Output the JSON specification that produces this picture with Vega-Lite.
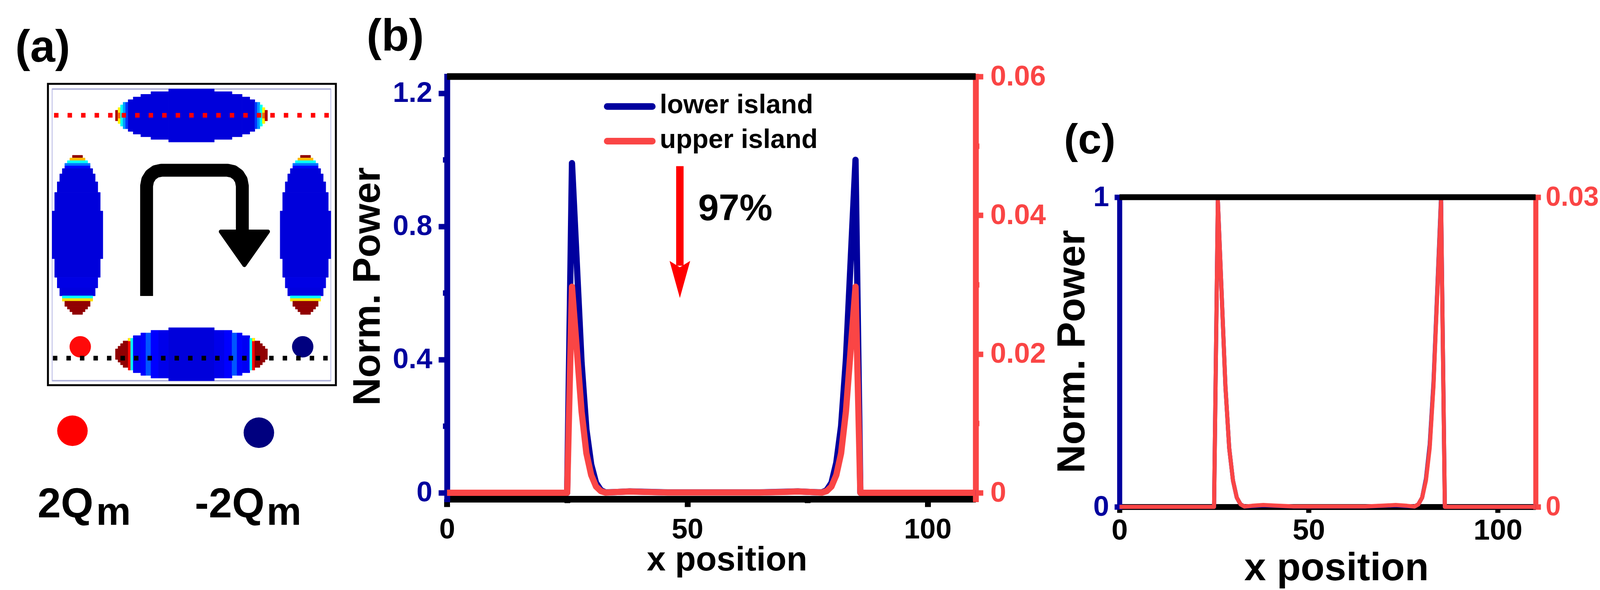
{
  "$schema": "https://vega.github.io/schema/vega-lite/v6.json",
  "width": 4295,
  "height": 1511,
  "padding": 0,
  "autosize": {"type": "fit", "contains": "padding"},
  "background": "white",
  "config": {
    "view": {"stroke": null},
    "font": "Liberation Sans",
    "axis": {"grid": false, "labelFont": "Liberation Sans", "titleFont": "Liberation Sans", "labelFontWeight": "bold", "titleFontWeight": "bold", "labelFlush": false, "labelOverlap": false, "domainCap": "square", "zindex": 1, "labelBound": false},
    "text": {"fontWeight": "bold", "font": "Liberation Sans", "baseline": "alphabetic", "align": "left", "color": "black"}
  },
  "datasets": {
    "profile": [
      {"x": 0, "lower": 0, "upper": 0},
      {"x": 25, "lower": 0, "upper": 0},
      {"x": 26, "lower": 0.99, "upper": 0.0297},
      {"x": 27, "lower": 0.69, "upper": 0.0207},
      {"x": 28, "lower": 0.39, "upper": 0.0117},
      {"x": 29, "lower": 0.19, "upper": 0.0057},
      {"x": 30, "lower": 0.085, "upper": 0.00255},
      {"x": 31, "lower": 0.03, "upper": 0.0009},
      {"x": 32, "lower": 0.008, "upper": 0.00024},
      {"x": 33, "lower": 0.001, "upper": 0.00003},
      {"x": 35, "lower": 0.002, "upper": 0.0001},
      {"x": 38, "lower": 0.004, "upper": 0.00018},
      {"x": 41, "lower": 0.003, "upper": 0.00012},
      {"x": 46, "lower": 0.001, "upper": 0.00004},
      {"x": 65, "lower": 0.001, "upper": 0.00004},
      {"x": 70, "lower": 0.003, "upper": 0.00012},
      {"x": 73, "lower": 0.004, "upper": 0.00018},
      {"x": 76, "lower": 0.002, "upper": 0.0001},
      {"x": 78, "lower": 0.001, "upper": 0.00003},
      {"x": 79, "lower": 0.008, "upper": 0.00024},
      {"x": 80, "lower": 0.03, "upper": 0.0009},
      {"x": 81, "lower": 0.09, "upper": 0.00255},
      {"x": 82, "lower": 0.2, "upper": 0.0057},
      {"x": 83, "lower": 0.4, "upper": 0.0117},
      {"x": 84, "lower": 0.7, "upper": 0.0207},
      {"x": 85, "lower": 1, "upper": 0.0297},
      {"x": 86, "lower": 0, "upper": 0},
      {"x": 110, "lower": 0, "upper": 0}
    ],
    "cells": [
      {"x": 25, "x2": 26, "y": 8, "y2": 12, "power": 0.95},
      {"x": 26, "x2": 27, "y": 7, "y2": 13, "power": 0.62},
      {"x": 26, "x2": 27, "y": 9, "y2": 11, "power": 0.8},
      {"x": 27, "x2": 28, "y": 6, "y2": 14, "power": 0.38},
      {"x": 28, "x2": 29, "y": 5, "y2": 15, "power": 0.22},
      {"x": 29, "x2": 30, "y": 5, "y2": 15, "power": 0.13},
      {"x": 30, "x2": 32, "y": 4, "y2": 16, "power": 0.076},
      {"x": 32, "x2": 35, "y": 3, "y2": 17, "power": 0.076},
      {"x": 35, "x2": 39, "y": 2, "y2": 18, "power": 0.076},
      {"x": 39, "x2": 46, "y": 1, "y2": 19, "power": 0.076},
      {"x": 46, "x2": 64, "y": 0, "y2": 20, "power": 0.076},
      {"x": 64, "x2": 71, "y": 1, "y2": 19, "power": 0.076},
      {"x": 71, "x2": 75, "y": 2, "y2": 18, "power": 0.076},
      {"x": 75, "x2": 78, "y": 3, "y2": 17, "power": 0.076},
      {"x": 78, "x2": 80, "y": 4, "y2": 16, "power": 0.076},
      {"x": 80, "x2": 81, "y": 5, "y2": 15, "power": 0.13},
      {"x": 81, "x2": 82, "y": 5, "y2": 15, "power": 0.22},
      {"x": 82, "x2": 83, "y": 6, "y2": 14, "power": 0.38},
      {"x": 83, "x2": 84, "y": 7, "y2": 13, "power": 0.62},
      {"x": 83, "x2": 84, "y": 9, "y2": 11, "power": 0.8},
      {"x": 84, "x2": 85, "y": 8, "y2": 12, "power": 0.95},

      {"x": 25, "x2": 26, "y": 98, "y2": 102, "power": 0.98},
      {"x": 26, "x2": 27, "y": 97, "y2": 103, "power": 0.98},
      {"x": 27, "x2": 28, "y": 96, "y2": 104, "power": 0.98},
      {"x": 28, "x2": 30, "y": 95, "y2": 105, "power": 0.98},
      {"x": 30, "x2": 31, "y": 94, "y2": 106, "power": 0.86},
      {"x": 30, "x2": 31, "y": 94, "y2": 95, "power": 0.62},
      {"x": 31, "x2": 32, "y": 94, "y2": 106, "power": 0.36},
      {"x": 32, "x2": 35, "y": 93, "y2": 107, "power": 0.1},
      {"x": 35, "x2": 37, "y": 92, "y2": 108, "power": 0.11},
      {"x": 37, "x2": 39, "y": 92, "y2": 108, "power": 0.15},
      {"x": 39, "x2": 42, "y": 91, "y2": 109, "power": 0.11},
      {"x": 42, "x2": 46, "y": 91, "y2": 109, "power": 0.09},
      {"x": 46, "x2": 64, "y": 90, "y2": 110, "power": 0.076},
      {"x": 64, "x2": 68, "y": 91, "y2": 109, "power": 0.09},
      {"x": 68, "x2": 71, "y": 91, "y2": 109, "power": 0.11},
      {"x": 71, "x2": 73, "y": 92, "y2": 108, "power": 0.15},
      {"x": 73, "x2": 75, "y": 92, "y2": 108, "power": 0.11},
      {"x": 75, "x2": 78, "y": 93, "y2": 107, "power": 0.1},
      {"x": 78, "x2": 79, "y": 94, "y2": 106, "power": 0.36},
      {"x": 79, "x2": 80, "y": 94, "y2": 106, "power": 0.86},
      {"x": 79, "x2": 80, "y": 94, "y2": 95, "power": 0.62},
      {"x": 80, "x2": 82, "y": 95, "y2": 105, "power": 0.98},
      {"x": 82, "x2": 83, "y": 96, "y2": 104, "power": 0.98},
      {"x": 83, "x2": 84, "y": 97, "y2": 103, "power": 0.98},
      {"x": 84, "x2": 85, "y": 98, "y2": 102, "power": 0.98},

      {"x": 8, "x2": 12, "y": 25, "y2": 26, "power": 0.98},
      {"x": 7, "x2": 13, "y": 26, "y2": 27, "power": 0.7},
      {"x": 6, "x2": 14, "y": 27, "y2": 28, "power": 0.36},
      {"x": 5, "x2": 15, "y": 28, "y2": 29, "power": 0.18},
      {"x": 5, "x2": 15, "y": 29, "y2": 30, "power": 0.11},
      {"x": 4, "x2": 16, "y": 30, "y2": 32, "power": 0.076},
      {"x": 3, "x2": 17, "y": 32, "y2": 35, "power": 0.076},
      {"x": 2, "x2": 18, "y": 35, "y2": 39, "power": 0.076},
      {"x": 1, "x2": 19, "y": 39, "y2": 46, "power": 0.076},
      {"x": 0, "x2": 20, "y": 46, "y2": 64, "power": 0.076},
      {"x": 1, "x2": 19, "y": 64, "y2": 71, "power": 0.076},
      {"x": 2, "x2": 18, "y": 71, "y2": 75, "power": 0.085},
      {"x": 3, "x2": 17, "y": 75, "y2": 78, "power": 0.08},
      {"x": 4, "x2": 16, "y": 78, "y2": 79, "power": 0.36},
      {"x": 4, "x2": 16, "y": 79, "y2": 80, "power": 0.65},
      {"x": 5, "x2": 15, "y": 80, "y2": 82, "power": 0.98},
      {"x": 6, "x2": 14, "y": 82, "y2": 83, "power": 0.98},
      {"x": 7, "x2": 13, "y": 83, "y2": 84, "power": 0.98},
      {"x": 8, "x2": 12, "y": 84, "y2": 85, "power": 0.98},

      {"x": 98, "x2": 102, "y": 25, "y2": 26, "power": 0.98},
      {"x": 97, "x2": 103, "y": 26, "y2": 27, "power": 0.7},
      {"x": 96, "x2": 104, "y": 27, "y2": 28, "power": 0.36},
      {"x": 95, "x2": 105, "y": 28, "y2": 29, "power": 0.18},
      {"x": 95, "x2": 105, "y": 29, "y2": 30, "power": 0.11},
      {"x": 94, "x2": 106, "y": 30, "y2": 32, "power": 0.076},
      {"x": 93, "x2": 107, "y": 32, "y2": 35, "power": 0.076},
      {"x": 92, "x2": 108, "y": 35, "y2": 39, "power": 0.076},
      {"x": 91, "x2": 109, "y": 39, "y2": 46, "power": 0.076},
      {"x": 90, "x2": 110, "y": 46, "y2": 64, "power": 0.076},
      {"x": 91, "x2": 109, "y": 64, "y2": 71, "power": 0.076},
      {"x": 92, "x2": 108, "y": 71, "y2": 75, "power": 0.085},
      {"x": 93, "x2": 107, "y": 75, "y2": 78, "power": 0.08},
      {"x": 94, "x2": 106, "y": 78, "y2": 79, "power": 0.36},
      {"x": 94, "x2": 106, "y": 79, "y2": 80, "power": 0.65},
      {"x": 95, "x2": 105, "y": 80, "y2": 82, "power": 0.98},
      {"x": 96, "x2": 104, "y": 82, "y2": 83, "power": 0.98},
      {"x": 97, "x2": 103, "y": 83, "y2": 84, "power": 0.98},
      {"x": 98, "x2": 102, "y": 84, "y2": 85, "power": 0.98}
    ],
    "bend": [
      {"i": 0, "x": 37.28, "y": 78.06},
      {"i": 1, "x": 37.28, "y": 36.52},
      {"i": 2, "x": 37.72, "y": 34.32},
      {"i": 3, "x": 38.97, "y": 32.4},
      {"i": 4, "x": 40.88, "y": 31.08},
      {"i": 5, "x": 43.16, "y": 30.63},
      {"i": 6, "x": 69.19, "y": 30.63},
      {"i": 7, "x": 71.47, "y": 31.08},
      {"i": 8, "x": 73.38, "y": 32.4},
      {"i": 9, "x": 74.63, "y": 34.32},
      {"i": 10, "x": 75.07, "y": 36.52},
      {"i": 11, "x": 75.07, "y": 53.31}
    ]
  },
  "layer": [
    {
      "encoding": {
        "x": {"field": "x", "type": "quantitative", "axis": null, "scale": {"domain": [0, 110], "range": [133.5, 846.9], "nice": false, "zero": false}},
        "y": {"field": "y", "type": "quantitative", "axis": null, "scale": {"domain": [0, 110], "range": [228, 975], "nice": false, "zero": false}}
      },
      "layer": [
        {
          "data": {"values": [{"x": -1.66, "x2": 112, "y": -1.94, "y2": 111.7}]},
          "mark": {"type": "rect", "fillOpacity": 0, "stroke": "black", "strokeWidth": 5},
          "encoding": {"x2": {"field": "x2"}, "y2": {"field": "y2"}}
        },
        {
          "data": {"values": [{"x": 0, "x2": 110, "y": 0, "y2": 110}]},
          "mark": {"type": "rect", "fillOpacity": 0, "stroke": "#c3c5ea", "strokeWidth": 2.5},
          "encoding": {"x2": {"field": "x2"}, "y2": {"field": "y2"}}
        },
        {
          "data": {"values": [{"x": 0, "x2": 110, "y": 0}, {"x": 0, "x2": 110, "y": 110}]},
          "mark": {"type": "rule", "stroke": "#b2b4da", "strokeWidth": 4},
          "encoding": {"x2": {"field": "x2"}}
        },
        {
          "data": {"name": "cells"},
          "mark": {"type": "rect", "opacity": 1, "strokeWidth": 1},
          "encoding": {
            "x2": {"field": "x2"},
            "y2": {"field": "y2"},
            "color": {
              "field": "power",
              "type": "quantitative",
              "legend": null,
              "scale": {
                "domain": [0, 0.11, 0.36, 0.61, 0.86, 1],
                "range": ["#00008f", "#0000ff", "#00ffff", "#ffff00", "#ff0000", "#800000"]
              }
            },
            "stroke": {
              "field": "power",
              "type": "quantitative",
              "legend": null,
              "scale": {
                "domain": [0, 0.11, 0.36, 0.61, 0.86, 1],
                "range": ["#00008f", "#0000ff", "#00ffff", "#ffff00", "#ff0000", "#800000"]
              }
            }
          }
        },
        {
          "data": {"values": [{"x": 11.09, "y": 97.2}]},
          "mark": {"type": "circle", "color": "#ff0a0a", "size": 3000, "opacity": 1}
        },
        {
          "data": {"values": [{"x": 98.9, "y": 97.2}]},
          "mark": {"type": "circle", "color": "#00007f", "size": 3000, "opacity": 1}
        },
        {
          "data": {"values": [{"x": 8.01, "y": 128.87}]},
          "mark": {"type": "circle", "color": "#ff0000", "size": 6100, "opacity": 1}
        },
        {
          "data": {"values": [{"x": 81.6, "y": 129.6}]},
          "mark": {"type": "circle", "color": "#00007f", "size": 6100, "opacity": 1}
        },
        {
          "data": {"values": [{"x": 0.75, "y": 9.9}, {"x": 109.3, "y": 9.9}]},
          "mark": {"type": "line", "color": "#ff0000", "strokeWidth": 12, "strokeDash": [11.4, 23.2]}
        },
        {
          "data": {"values": [{"x": 0.3, "y": 101.5}, {"x": 108.9, "y": 101.5}]},
          "mark": {"type": "line", "color": "black", "strokeWidth": 12, "strokeDash": [11.4, 23.2]}
        },
        {
          "data": {"name": "bend"},
          "mark": {"type": "line", "color": "black", "strokeWidth": 33, "strokeJoin": "round"},
          "encoding": {"order": {"field": "i", "type": "quantitative"}}
        },
        {
          "data": {"values": [{"x": 75.88, "y": 60.09}]},
          "mark": {"type": "point", "filled": true, "shape": "M-1,-0.71L1,-0.71L0,0.71Z", "size": 14641, "color": "black", "stroke": "black", "strokeWidth": 10, "strokeJoin": "round", "opacity": 1}
        },
        {
          "data": {"values": [{"x": -14.56, "y": -10.3, "label": "(a)"}]},
          "mark": {"type": "text", "fontSize": 115},
          "encoding": {"text": {"field": "label"}}
        },
        {
          "data": {"values": [{"x": -5.74, "y": 161.56, "label": "2Q"}, {"x": 56.32, "y": 161.56, "label": "-2Q"}]},
          "mark": {"type": "text", "fontSize": 107},
          "encoding": {"text": {"field": "label"}}
        },
        {
          "data": {"values": [{"x": 17.35, "y": 164.36, "label": "m"}, {"x": 84.65, "y": 164.36, "label": "m"}]},
          "mark": {"type": "text", "fontSize": 100},
          "encoding": {"text": {"field": "label"}}
        }
      ]
    },
    {
      "data": {"name": "profile"},
      "encoding": {
        "x": {
          "field": "x",
          "type": "quantitative",
          "scale": {"domain": [0, 110], "range": [1144.4, 2497.7], "nice": false, "zero": false},
          "axis": {
            "orient": "bottom", "offset": -233, "values": [0, 25, 50, 75, 100], "format": "d",
            "labelExpr": "datum.value % 50 != 0 ? '' : datum.label",
            "domainColor": "black", "domainWidth": 17, "domainCap": "butt",
            "tickColor": "black", "tickWidth": 15,
            "tickSize": {"condition": {"test": "datum.value % 50 != 0", "value": 10}, "value": 20},
            "labelFontSize": 73, "labelColor": "black", "labelPadding": 22,
            "title": "x position", "titleFontSize": 87, "titleColor": "black",
            "titleX": 1860.7, "titleY": 182, "titleBaseline": "alphabetic", "titleAlign": "center"
          }
        }
      },
      "layer": [
        {
          "mark": {"type": "line", "color": "#00009e", "strokeWidth": 16, "strokeJoin": "round"},
          "encoding": {
            "y": {
              "field": "lower",
              "type": "quantitative",
              "scale": {"domain": [-0.0188, 1.25], "range": [1278, 196], "nice": false, "zero": false},
              "axis": {
                "orient": "left", "offset": -1144.4, "values": [0, 0.2, 0.4, 0.6, 0.8, 1, 1.2], "format": "~g",
                "labelExpr": "indexof([0.2, 0.6, 1], datum.value) >= 0 ? '' : datum.label",
                "domainColor": "#00009e", "domainWidth": 15,
                "tickColor": "#00009e", "tickWidth": 14,
                "tickSize": {"condition": {"test": "indexof([0.2, 0.6, 1], datum.value) >= 0", "value": 11}, "value": 22},
                "labelFontSize": 73, "labelColor": "#00009e", "labelPadding": 16,
                "title": "Norm. Power", "titleFontSize": 99, "titleColor": "black",
                "titleX": -172.6, "titleY": 733, "titleAngle": 270, "titleBaseline": "alphabetic", "titleAlign": "center"
              }
            }
          }
        },
        {
          "mark": {"type": "line", "color": "#fa4545", "strokeWidth": 16, "strokeJoin": "round"},
          "encoding": {
            "y": {
              "field": "upper",
              "type": "quantitative",
              "scale": {"domain": [-0.0009, 0.06], "range": [1278, 196], "nice": false, "zero": false},
              "axis": {
                "orient": "right", "offset": -1797.3, "values": [0, 0.01, 0.02, 0.03, 0.04, 0.05, 0.06], "format": "~g",
                "labelExpr": "indexof([0.01, 0.03, 0.05], datum.value) >= 0 ? '' : datum.label",
                "domainColor": "#fa4545", "domainWidth": 15,
                "tickColor": "#fa4545", "tickWidth": 14,
                "tickSize": {"condition": {"test": "indexof([0.01, 0.03, 0.05], datum.value) >= 0", "value": 9}, "value": 19},
                "labelFontSize": 73, "labelColor": "#fa4545", "labelPadding": 18, "title": null
              }
            }
          }
        }
      ],
      "resolve": {"scale": {"y": "independent"}, "axis": {"y": "independent"}}
    },
    {
      "encoding": {
        "x": {"field": "x", "type": "quantitative", "axis": null, "scale": {"domain": [0, 110], "range": [1144.4, 2497.7], "nice": false, "zero": false}},
        "y": {"field": "y", "type": "quantitative", "axis": null, "scale": {"domain": [-0.0188, 1.25], "range": [1278, 196], "nice": false, "zero": false}}
      },
      "layer": [
        {
          "data": {"values": [{"x": 0, "x2": 110, "y": 1.25}]},
          "mark": {"type": "rule", "color": "black", "strokeWidth": 17},
          "encoding": {"x2": {"field": "x2"}}
        },
        {
          "data": {"values": [{"x": 33.33, "x2": 42.71, "y": 1.16}]},
          "mark": {"type": "rule", "color": "#00009e", "strokeWidth": 17, "strokeCap": "round"},
          "encoding": {"x2": {"field": "x2"}}
        },
        {
          "data": {"values": [{"x": 33.33, "x2": 42.71, "y": 1.056}]},
          "mark": {"type": "rule", "color": "#fa4545", "strokeWidth": 17, "strokeCap": "round"},
          "encoding": {"x2": {"field": "x2"}}
        },
        {
          "data": {"values": [{"x": 44.26, "y": 1.14, "label": "lower island"}, {"x": 44.26, "y": 1.035, "label": "upper island"}]},
          "mark": {"type": "text", "fontSize": 68},
          "encoding": {"text": {"field": "label"}}
        },
        {
          "data": {"values": [{"x": 48.45, "y": 0.981, "y2": 0.682}]},
          "mark": {"type": "rule", "color": "#ff0000", "strokeWidth": 19},
          "encoding": {"y2": {"field": "y2"}}
        },
        {
          "data": {"values": [{"x": 48.45, "y": 0.6405}]},
          "mark": {"type": "point", "filled": true, "shape": "M-0.555,-1L0,-0.66L0.555,-1L0,1Z", "size": 9025, "color": "#ff0000", "opacity": 1}
        },
        {
          "data": {"values": [{"x": 52.25, "y": 0.819, "label": "97%"}]},
          "mark": {"type": "text", "fontSize": 95},
          "encoding": {"text": {"field": "label"}}
        },
        {
          "data": {"values": [{"x": -16.74, "y": 1.327, "label": "(b)"}]},
          "mark": {"type": "text", "fontSize": 115},
          "encoding": {"text": {"field": "label"}}
        }
      ]
    },
    {
      "data": {"name": "profile"},
      "encoding": {
        "x": {
          "field": "x",
          "type": "quantitative",
          "scale": {"domain": [0, 110], "range": [2865.9, 3931.2], "nice": false, "zero": false},
          "axis": {
            "orient": "bottom", "offset": -213, "values": [0, 50, 100], "format": "d",
            "domainColor": "black", "domainWidth": 15, "domainCap": "butt",
            "tickColor": "black", "tickWidth": 13, "tickSize": 15,
            "labelFontSize": 75, "labelColor": "black", "labelPadding": 9,
            "title": "x position", "titleFontSize": 100, "titleColor": "black",
            "titleX": 3420.9, "titleY": 187, "titleBaseline": "alphabetic", "titleAlign": "center"
          }
        }
      },
      "layer": [
        {
          "mark": {"type": "line", "color": "#00009e", "strokeWidth": 10.5, "strokeJoin": "round"},
          "encoding": {
            "y": {
              "field": "lower",
              "type": "quantitative",
              "scale": {"domain": [0, 1], "range": [1298, 505], "nice": false, "zero": false},
              "axis": {
                "orient": "left", "offset": -2865.9, "values": [0, 1], "format": "d",
                "domainColor": "#00009e", "domainWidth": 13,
                "tickColor": "#00009e", "tickWidth": 14, "tickSize": 13,
                "labelFontSize": 73, "labelColor": "#00009e", "labelPadding": 14,
                "title": "Norm. Power", "titleFontSize": 101, "titleColor": "black",
                "titleX": -90.6, "titleY": 900, "titleAngle": 270, "titleBaseline": "alphabetic", "titleAlign": "center"
              }
            }
          }
        },
        {
          "mark": {"type": "line", "color": "#fa4545", "strokeWidth": 10.5, "strokeJoin": "round"},
          "encoding": {
            "y": {
              "field": "upper",
              "type": "quantitative",
              "scale": {"domain": [0, 0.03], "range": [1298, 505], "nice": false, "zero": false},
              "axis": {
                "orient": "right", "offset": -363.8, "values": [0, 0.03], "format": "~g",
                "domainColor": "#fa4545", "domainWidth": 13,
                "tickColor": "#fa4545", "tickWidth": 14, "tickSize": 13,
                "labelFontSize": 70, "labelColor": "#fa4545", "labelPadding": 12, "title": null
              }
            }
          }
        }
      ],
      "resolve": {"scale": {"y": "independent"}, "axis": {"y": "independent"}}
    },
    {
      "encoding": {
        "x": {"field": "x", "type": "quantitative", "axis": null, "scale": {"domain": [0, 110], "range": [2865.9, 3931.2], "nice": false, "zero": false}},
        "y": {"field": "y", "type": "quantitative", "axis": null, "scale": {"domain": [0, 1], "range": [1298, 505], "nice": false, "zero": false}}
      },
      "layer": [
        {
          "data": {"values": [{"x": 0, "x2": 110, "y": 1}]},
          "mark": {"type": "rule", "color": "black", "strokeWidth": 15},
          "encoding": {"x2": {"field": "x2"}}
        },
        {
          "data": {"values": [{"x": -14.68, "y": 1.141, "label": "(c)"}]},
          "mark": {"type": "text", "fontSize": 108},
          "encoding": {"text": {"field": "label"}}
        }
      ]
    }
  ],
  "resolve": {"scale": {"x": "independent", "y": "independent"}, "axis": {"x": "independent", "y": "independent"}}
}
